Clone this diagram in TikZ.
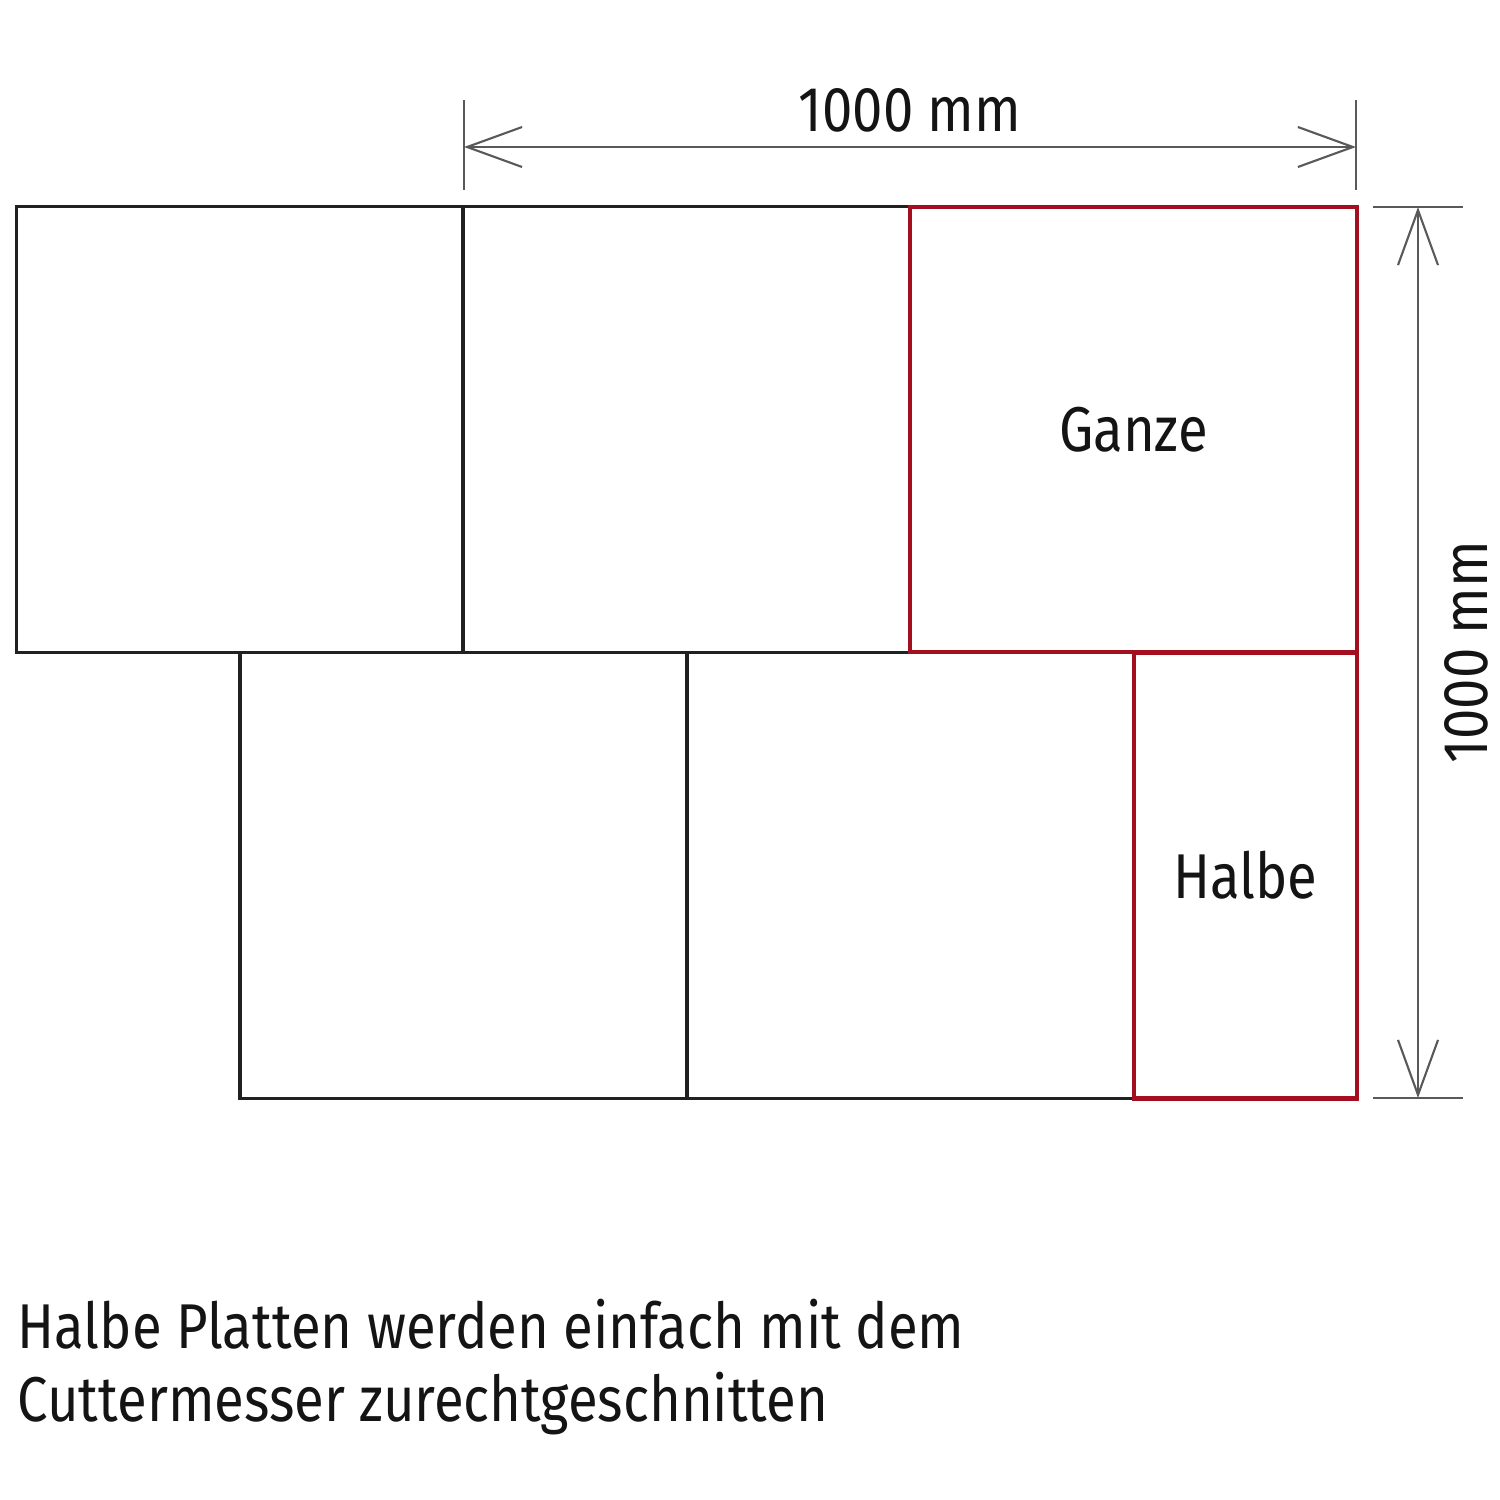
\documentclass[tikz,border=0pt]{standalone}
\usepackage{fontspec}
\setmainfont[FakeStretch=0.86]{Fira Sans}
\usetikzlibrary{arrows.meta,positioning}

\begin{document}
\begin{tikzpicture}[x=0.01cm,y=-0.01cm,
  tile/.style={draw=ctile,line width=1.0pt,inner sep=0pt,outer sep=0pt,
    minimum width=4.47cm,minimum height=4.455cm},
  cut/.style={tile,draw=ccut,line width=1.2pt},
  half/.style={cut,minimum width=2.23cm},
  dimline/.style={draw=cdim,line width=0.6pt},
  dimarrow/.style={dimline,{Straight Barb[length=5.5mm,width=4mm,line width=0.6pt]}-{Straight Barb[length=5.5mm,width=4mm,line width=0.6pt]}},
  label/.style={font=\fontsize{18}{21}\selectfont,text=ctext,inner sep=0pt}]
%
\useasboundingbox (0,0) rectangle (1500,1500);
%
\definecolor{ctile}{rgb}{0.13,0.13,0.13}
\definecolor{ccut}{rgb}{0.64,0.06,0.12}
\definecolor{cdim}{rgb}{0.35,0.35,0.35}
\definecolor{ctext}{rgb}{0.08,0.08,0.08}
%
% upper row
\node[tile] (t1) at (240,429.5) {};
\node[tile] (t2) at (686.5,429.5) {};
% lower row
\node[tile] (b1) at (463.5,875.5) {};
\node[tile] (b2) at (910.5,875.5) {};
% red tiles
\node[cut] (ganze) at (1133.5,429.5) {};
\node[half] (halbe) at (1245.5,875.5) {};
\node[label] at (ganze.center) {Ganze};
\node[label] at (halbe.center) {Halbe};
%
% width
\coordinate (w1) at (464,100);
\coordinate (w2) at (464,190);
\coordinate (w3) at (1356,100);
\coordinate (w4) at (1356,190);
\coordinate (wa) at (464,147);
\coordinate (wb) at (1356,147);
\draw[dimline] (w1) -- (w2);
\draw[dimline] (w3) -- (w4);
\draw[dimarrow] (wa) -- (wb);
\node[label] (wlabel) at (910,110) {1000 mm};
%
% height
\coordinate (h1) at (1373,207);
\coordinate (h2) at (1463,207);
\coordinate (h3) at (1373,1098);
\coordinate (h4) at (1463,1098);
\coordinate (ha) at (1418,207);
\coordinate (hb) at (1418,1098);
\draw[dimline] (h1) -- (h2);
\draw[dimline] (h3) -- (h4);
\draw[dimarrow] (ha) -- (hb);
\node[label,rotate=90] (hlabel) at (1466,652) {1000 mm};
%
\node[label,anchor=base west] (caption1) at (17,1348)
  {Halbe Platten werden einfach mit dem};
\node[label,anchor=base west] (caption2) at (17,1421)
  {Cuttermesser zurechtgeschnitten};
%
\end{tikzpicture}
\end{document}
